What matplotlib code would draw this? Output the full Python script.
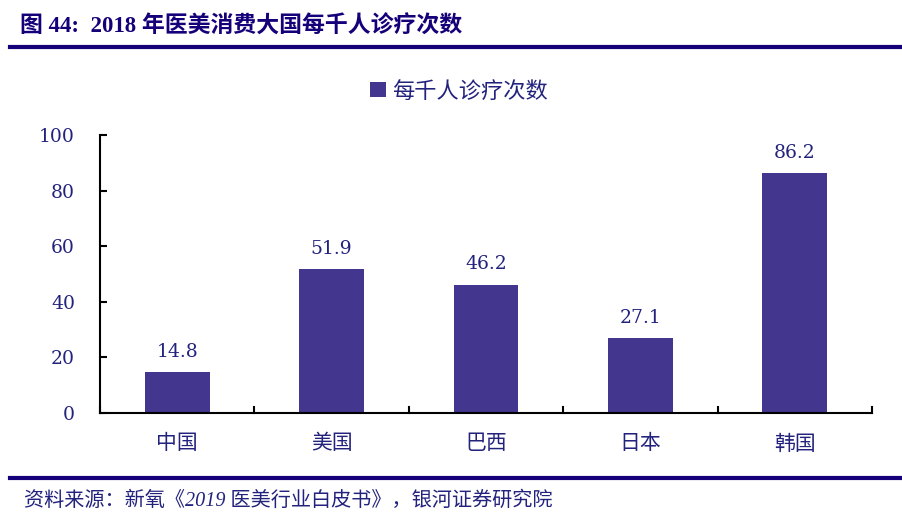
import matplotlib.pyplot as plt
from matplotlib.lines import Line2D

plt.rcParams['font.family'] = ['DejaVu Serif', 'Noto Sans CJK SC']

countries = ['中国', '美国', '巴西', '日本', '韩国']
visits = [14.8, 51.9, 46.2, 27.1, 86.2]
series_name = '每千人诊疗次数'
title = '图 44:  2018 年医美消费大国每千人诊疗次数'
source = '资料来源：新氧《2019 医美行业白皮书》，银河证券研究院'

bar_color = '#42368F'
text_color = '#23237E'
line_color = '#16007A'

fig = plt.figure(figsize=(9.02, 5.19), dpi=100)
ax = fig.add_axes([0.1109, 0.2042, 0.8558, 0.5357])

x = range(len(countries))
bars = ax.bar(x, visits, width=0.42, color=bar_color, label=series_name)
for b, v in zip(bars, visits):
    ax.text(b.get_x() + b.get_width() / 2, v + 4, f'{v:.1f}', ha='center', va='bottom',
            fontsize=13.5, color=text_color)

ax.set_xlim(-0.5, len(countries) - 0.5)
ax.set_ylim(0, 100)
ax.set_yticks(range(0, 101, 20))
ax.tick_params(axis='y', direction='in', length=5, width=1.5, labelsize=13.5,
               labelcolor=text_color, pad=18)
ax.set_xticks(list(x))
ax.set_xticklabels(countries, fontsize=15, color=text_color, family='Noto Sans CJK SC')
ax.tick_params(axis='x', length=0, pad=14)
# boundary ticks between categories pointing up
for i in range(len(countries) + 1):
    ax.plot([i - 0.5, i - 0.5], [0, 2.3], color='black', lw=1.5, clip_on=False)
for s in ['top', 'right']:
    ax.spines[s].set_visible(False)
ax.spines['left'].set_linewidth(1.5)
ax.spines['bottom'].set_linewidth(1.5)

leg = ax.legend(loc='lower center', bbox_to_anchor=(0.465, 1.045), frameon=False,
                prop={'family': 'Noto Sans CJK SC', 'size': 16},
                handlelength=0.7, handleheight=0.7, handletextpad=0.3)
for t in leg.get_texts():
    t.set_color(text_color)

fig.text(0.022, 0.948, title, fontsize=16.5, fontweight='bold', color=line_color,
         va='center', ha='left', family=['Liberation Serif', 'Noto Sans CJK SC'])
fig.add_artist(Line2D([0.011, 1.0], [0.909, 0.909], color=line_color, lw=3))
fig.add_artist(Line2D([0.011, 1.0], [0.079, 0.079], color=line_color, lw=3))
fig.text(0.027, 0.035, source, fontsize=14.5, style='italic', color=text_color,
         va='center', ha='left', family=['Liberation Serif', 'Noto Sans CJK SC'])

fig.savefig('out.png', dpi=100)
